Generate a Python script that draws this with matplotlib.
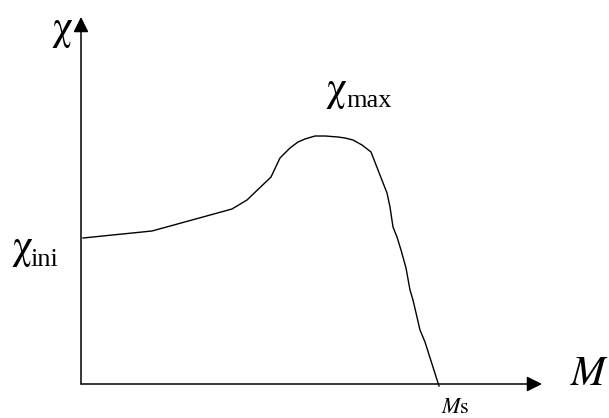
import matplotlib
matplotlib.use("Agg")
import matplotlib.pyplot as plt

# chi(M) sketch, values (arbitrary units)
M = [0.02, 0.71, 1.51, 1.66, 1.90, 1.99, 2.09, 2.17, 2.24, 2.34, 2.44, 2.57,
     2.64, 2.72, 2.81, 2.90, 2.97, 3.06, 3.09, 3.12, 3.16, 3.20, 3.25, 3.29,
     3.32, 3.39, 3.44, 3.58]
chi = [1.46, 1.53, 1.75, 1.84, 2.07, 2.26, 2.36, 2.42, 2.45, 2.48, 2.48, 2.47,
       2.46, 2.44, 2.39, 2.32, 2.14, 1.91, 1.77, 1.57, 1.47, 1.34, 1.16, 0.94,
       0.84, 0.54, 0.42, -0.02]

plt.rcParams['font.family'] = ['Liberation Serif', 'DejaVu Serif']
plt.rcParams['mathtext.fontset'] = 'stix'

W, H = 609, 418
fig = plt.figure(figsize=(W / 100, H / 100), dpi=100)
ax = fig.add_axes([0, 0, 1, 1])
ax.set_xlim(-0.81, 5.28)
ax.set_ylim(-0.34, 3.84)
ax.axis('off')

ax.plot(M, chi, color='k', lw=1.0)

arrow = dict(arrowstyle='-|>', mutation_scale=23, lw=1.1, color='k',
             shrinkA=0, shrinkB=0)
ax.annotate('', xy=(0, 3.67), xytext=(0, 0), arrowprops=arrow)
ax.annotate('', xy=(4.61, 0), xytext=(0, 0), arrowprops=arrow)

def px(x, y):
    return x / W, 1 - y / H

t = fig.transFigure
greek = dict(fontsize=30, family='STIXGeneral', ha='left', va='baseline', transform=t)
fig.text(*px(51, 39), 'χ', **greek)
fig.text(*px(12, 258), 'χ', **greek)
fig.text(*px(30, 266), 'ini', fontsize=19, ha='left', va='baseline', transform=t)
fig.text(*px(326, 100), 'χ', **greek)
fig.text(*px(346, 107), 'max', fontsize=19, ha='left', va='baseline', transform=t)
fig.text(*px(570, 385), r'$M$', fontsize=30, ha='left', va='baseline', transform=t)
fig.text(*px(441, 413), r'$M\mathrm{s}$', fontsize=16, ha='left', va='baseline', transform=t)

fig.savefig('out.png', dpi=100, facecolor='white')
